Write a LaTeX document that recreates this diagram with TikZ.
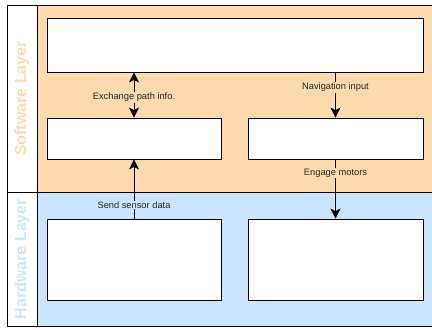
\documentclass[tikz,border=0pt]{standalone}
\usepackage{fontspec}
\setmainfont{Liberation Sans}
\usepackage{xcolor}
\usetikzlibrary{arrows.meta, positioning}

\definecolor{swfill}{HTML}{FDDBAE}
\definecolor{hwfill}{HTML}{CCE5FF}

\begin{document}
\begin{tikzpicture}[
    x=1pt,
    y=-1pt,
    >={Stealth[length=10pt, width=10pt, inset=2.5pt]},
    block/.style={rectangle, draw, fill=white, line width=0.9pt,
                  inner sep=0pt},
    lane/.style={draw, line width=0.9pt},
    title/.style={rotate=90, font=\fontsize{16}{18}\selectfont\bfseries},
    arrow/.style={->, line width=0.9pt},
    dblarrow/.style={<->, line width=0.9pt},
    lbl/.style={font=\fontsize{9.3}{11}\selectfont, inner sep=1pt,
                text=black!85},
]
\clip (0,0) rectangle (432,330);
\useasboundingbox (0,0) rectangle (432,330);

% lanes
\draw[lane, fill=swfill] (7,5) rectangle (440,192);
\draw[lane, fill=hwfill] (7,192) rectangle (440,326);
\draw[lane, fill=white] (7,5) rectangle (37,326);
\draw[lane] (7,192) -- (37,192);
\node[title, text=swfill] (swt) at (22,98.5) {Software Layer};
\node[title, text=hwfill] (hwt) at (22,259) {Hardware Layer};

% boxes
\node[block, minimum width=376, minimum height=54] (plan) at (235,45)    {};
\node[block, minimum width=174, minimum height=41] (loc)  at (134,138.5) {};
\node[block, minimum width=175, minimum height=41] (nav)  at (335.5,138.5) {};
\node[block, minimum width=174, minimum height=81] (sens) at (134,259.5) {};
\node[block, minimum width=175, minimum height=81] (mot)  at (335.5,259.5) {};

% connectors
\draw[dblarrow] (plan.south -| loc.north) -- node[pos=0.55, lbl, fill=swfill]
    {Exchange path info.} (loc.north);
\draw[arrow] (plan.south -| nav.north) -- node[pos=0.33, lbl, fill=swfill]
    {Navigation input} (nav.north);
\draw[arrow] (sens.north) -- node[pos=0.23, lbl, fill=hwfill]
    {Send sensor data} (loc.south);
\draw[arrow] (nav.south) -- node[pos=0.23, lbl, fill=swfill]
    {Engage motors} (mot.north);
\end{tikzpicture}
\end{document}
